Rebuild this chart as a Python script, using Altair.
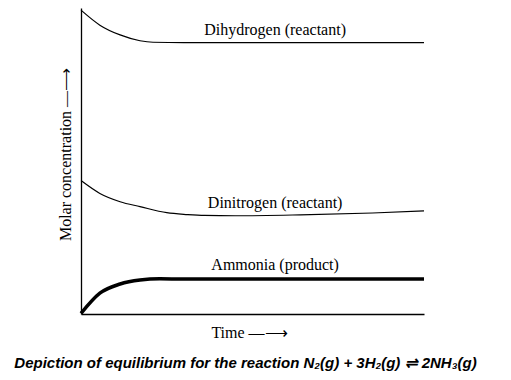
import altair as alt
import pandas as pd

# Time points and concentrations (arbitrary units)
t_h2 = [0, 0.55, 1.14, 1.72, 2.1, 3, 5, 7, 10]
h2 = [9.93, 9.44, 9.12, 8.93, 8.88, 8.87, 8.87, 8.87, 8.87]

t_n2 = [0, 0.55, 1.14, 1.72, 2.5, 3.1, 3.6, 4.5, 6.4, 8.5, 10]
n2 = [4.36, 3.94, 3.67, 3.51, 3.31, 3.25, 3.22, 3.21, 3.24, 3.30, 3.37]

t_nh3 = [0, 0.55, 1.14, 1.72, 2.3, 3, 5, 7, 10]
nh3 = [0.02, 0.68, 0.98, 1.11, 1.15, 1.14, 1.14, 1.14, 1.14]

labels = ["Dihydrogen (reactant)", "Dinitrogen (reactant)", "Ammonia (product)"]
label_t = [5.66, 5.66, 5.66]
label_y = [9.12, 3.46, 1.44]

caption = "Depiction of equilibrium for the reaction N\u2082(g) + 3H\u2082(g) \u21cc 2NH\u2083(g)"

rows = []
for s, ts, vs in [("H2", t_h2, h2), ("N2", t_n2, n2), ("NH3", t_nh3, nh3)]:
    for t, v in zip(ts, vs):
        rows.append({"series": s, "t": t, "c": v})
df = pd.DataFrame(rows)
lab = pd.DataFrame({"label": labels, "t": label_t, "c": label_y})

xs = alt.Scale(domain=[0, 10], nice=False)
ys = alt.Scale(domain=[0, 10], nice=False)

xaxis = alt.Axis(labels=False, ticks=False, grid=False, domainColor="black",
                 domainWidth=1.3, title="Time \u2014\u27f6", titleFont="Liberation Serif",
                 titleFontSize=16, titleFontWeight="normal", titleColor="black",
                 titleX=168, titleY=23, titleBaseline="alphabetic", titleAlign="center")
yaxis = alt.Axis(labels=False, ticks=False, grid=False, domainColor="black",
                 domainWidth=1.3, title="Molar concentration \u2014\u27f6", titleFont="Liberation Serif",
                 titleFontSize=16, titleFontWeight="normal", titleColor="black",
                 titleX=-16, titleY=146, titleBaseline="middle", titleAlign="center", titleAngle=270)

thin = alt.Chart(df).transform_filter(alt.datum.series != "NH3").mark_line(
    color="black", strokeWidth=1.2, interpolate="monotone"
).encode(
    x=alt.X("t:Q", scale=xs, axis=xaxis),
    y=alt.Y("c:Q", scale=ys, axis=yaxis),
    detail="series:N",
)

thick = alt.Chart(df).transform_filter(alt.datum.series == "NH3").mark_line(
    color="black", strokeWidth=3.5, interpolate="monotone"
).encode(
    x=alt.X("t:Q", scale=xs),
    y=alt.Y("c:Q", scale=ys),
)

text = alt.Chart(lab).mark_text(
    font="Liberation Serif", fontSize=16, color="black", align="center", baseline="alphabetic"
).encode(
    x=alt.X("t:Q", scale=xs),
    y=alt.Y("c:Q", scale=ys),
    text="label:N",
)

chart = alt.layer(thin, thick, text).properties(
    width=343, height=306,
    padding={"left": 73, "top": 0, "right": 71, "bottom": 58},
    autosize=alt.AutoSizeParams(type="none"),
    title=alt.TitleParams(caption, orient="bottom", anchor="middle", font="Liberation Sans",
                          fontSize=15, fontStyle="italic", fontWeight="bold", color="black",
                          offset=16, dx=-7),
).configure_view(stroke=None)

chart.save("out.html", embed_options={"renderer": "svg", "actions": False})
